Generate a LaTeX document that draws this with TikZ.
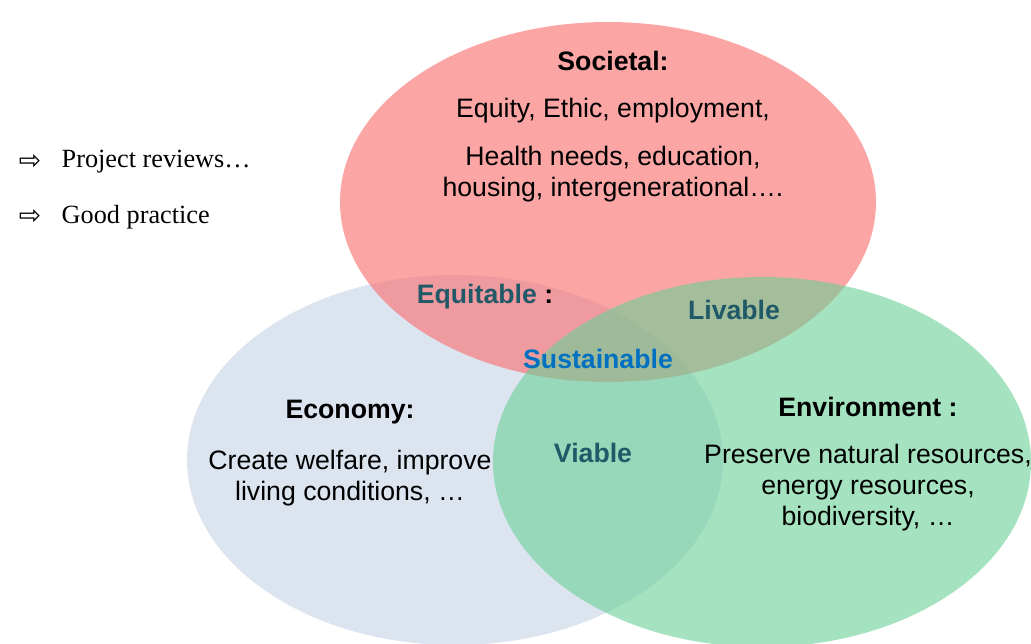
\documentclass[tikz,border=0pt]{standalone}
\usepackage{fontspec}
\setmainfont{Liberation Sans}
\newfontfamily\notefont{Liberation Serif}
\newfontfamily\arrowfont{DejaVu Sans}
\usetikzlibrary{positioning}

\definecolor{socred}{RGB}{250,105,105}
\definecolor{ecoblue}{RGB}{220,228,240}
\definecolor{envgreen}{RGB}{105,208,150}
\definecolor{pairteal}{RGB}{33,89,104}
\definecolor{sustblue}{RGB}{0,112,192}

\begin{document}
\begin{tikzpicture}[x=0.75pt,y=-0.75pt,
    txt/.style={font=\fontsize{20}{23.25}\selectfont, align=center, inner sep=0pt},
    head/.style={txt, font=\fontsize{20}{23.25}\selectfont\bfseries},
    pair/.style={head, text=pairteal},
    bullet/.style={font=\arrowfont\fontsize{20}{22}\selectfont, inner sep=0pt},
    note/.style={font=\notefont\fontsize{19.7}{22}\selectfont, inner sep=0pt}]
        \useasboundingbox (0,0) rectangle (1031,643);

        % the three circles
        \fill[ecoblue] (455,460) ellipse [x radius=268, y radius=185];
        \fill[socred, fill opacity=0.6] (608,202) ellipse [x radius=268, y radius=180];
        \fill[envgreen, fill opacity=0.6] (762,462) ellipse [x radius=269, y radius=185];

        % societal
        \node (soc) [head] at (613,61) {Societal:};
        \node (socone) [txt, below of=soc, node distance=37.5pt] {Equity, Ethic, employment,};
        \node (soctwo) [txt, below of=socone, node distance=47.5pt] {Health needs, education,\\housing, intergenerational….};

        % economy
        \node (eco) [head] at (350,412) {Economy:};
        \node (ecotxt) [txt, below of=eco, node distance=49.5pt] {Create welfare, improve\\living conditions, …};

        % environment
        \node (env) [head] at (868,407) {Environment :};
        \node (envtxt) [txt, below of=env, node distance=60.5pt] {Preserve natural resources,\\energy resources,\\biodiversity, …};

        % overlaps
        \node (equi) [pair] at (485,297) {Equitable \textcolor{black}{:}};
        \node (liv) [pair] at (734,310) {Livable};
        \node (via) [pair] at (593,453) {Viable};
        \node (sust) [head, text=sustblue] at (598,359) {Sustainable};

        % side notes
        \node (arrone) [bullet] at (30,162) {⇨};
        \node (arrtwo) [bullet] at (30,217) {⇨};
        \node (review) [note, right=15pt of arrone] {Project reviews…};
        \node (good) [note, right=15pt of arrtwo] {Good practice};
    \end{tikzpicture}
\end{document}
